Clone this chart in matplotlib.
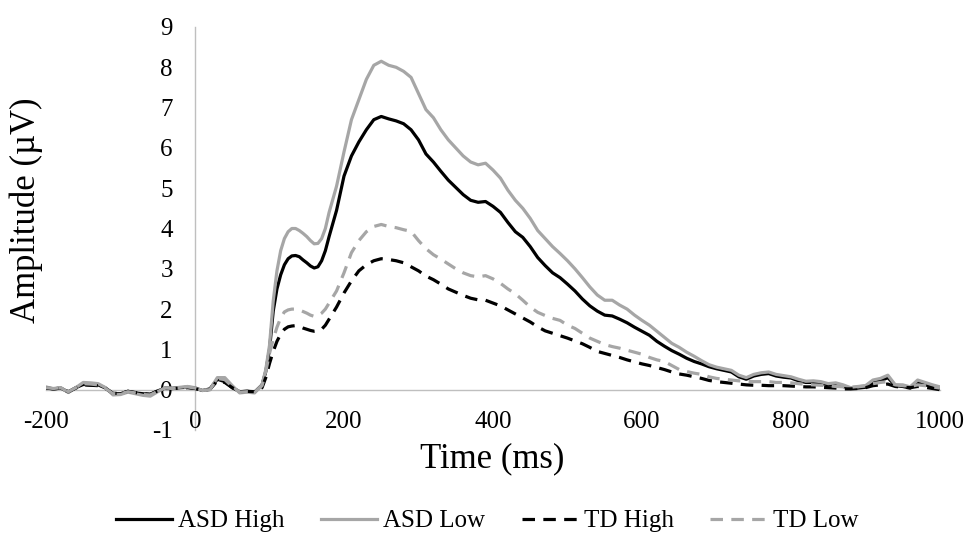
import numpy as np
import matplotlib
matplotlib.use("Agg")
import matplotlib.pyplot as plt
from matplotlib.lines import Line2D

plt.rcParams['font.family'] = ['Liberation Serif', 'DejaVu Serif']
plt.rcParams['lines.scale_dashes'] = False
plt.rcParams['axes.unicode_minus'] = False

time_ms = list(range(-200, 90, 10)) + list(range(90, 180, 5)) + list(range(180, 1001, 10))

asd_high = [0.05, 0.02, 0.04, -0.06, 0.05, 0.13, 0.12, 0.12, 0.04, -0.10,
            -0.10, -0.04, -0.08, -0.10, -0.12, -0.03, 0.04, 0.03, 0.05, 0.06,
            0.04, -0.02, 0.02, 0.26, 0.20, 0.05, -0.05, -0.04, -0.06,
            0.12, 0.45, 1.00, 1.95, 2.50, 2.85, 3.10, 3.25, 3.32, 3.33,
            3.30, 3.22, 3.15, 3.07, 3.02, 3.05, 3.20, 3.45,
            3.80, 4.45,
            5.30, 5.80, 6.15, 6.45, 6.70, 6.78, 6.72, 6.67, 6.60, 6.45,
            6.20, 5.85, 5.65, 5.42, 5.20, 5.02, 4.84, 4.70, 4.65, 4.67,
            4.55, 4.40, 4.15, 3.92, 3.78, 3.55, 3.28, 3.08, 2.90, 2.78,
            2.62, 2.45, 2.25, 2.08, 1.95, 1.85, 1.83, 1.75, 1.66, 1.55,
            1.45, 1.35, 1.20, 1.08, 0.97, 0.88, 0.78, 0.70, 0.64, 0.57,
            0.52, 0.48, 0.44, 0.32, 0.26, 0.34, 0.38, 0.40, 0.34, 0.31,
            0.29, 0.22, 0.18, 0.18, 0.16, 0.12, 0.13, 0.08, 0.03, 0.04,
            0.06, 0.18, 0.22, 0.30, 0.10, 0.08, 0.04, 0.18, 0.12, 0.08,
            0.04]

asd_low = [0.07, 0.02, 0.05, -0.07, 0.05, 0.18, 0.17, 0.15, 0.05, -0.13,
           -0.12, -0.06, -0.10, -0.14, -0.16, -0.05, 0.05, 0.04, 0.06, 0.08,
           0.05, -0.02, 0.00, 0.30, 0.30, 0.10, -0.08, -0.06, -0.08,
           0.12, 0.50, 1.10, 2.20, 2.95, 3.45, 3.75, 3.92, 4.00, 4.00,
           3.95, 3.88, 3.80, 3.70, 3.62, 3.63, 3.75, 4.00,
           4.40, 5.05,
           5.90, 6.70, 7.20, 7.70, 8.05, 8.15, 8.05, 8.00, 7.90, 7.75,
           7.35, 6.95, 6.75, 6.45, 6.20, 6.00, 5.80, 5.65, 5.58, 5.62,
           5.45, 5.25, 4.95, 4.70, 4.50, 4.25, 3.95, 3.75, 3.55, 3.38,
           3.20, 3.00, 2.78, 2.55, 2.35, 2.22, 2.22, 2.10, 2.00, 1.85,
           1.72, 1.60, 1.45, 1.30, 1.15, 1.05, 0.93, 0.83, 0.72, 0.62,
           0.56, 0.52, 0.48, 0.36, 0.30, 0.38, 0.42, 0.44, 0.38, 0.35,
           0.32, 0.26, 0.21, 0.22, 0.20, 0.15, 0.17, 0.12, 0.05, 0.07,
           0.10, 0.24, 0.28, 0.36, 0.12, 0.12, 0.07, 0.24, 0.18, 0.12,
           0.07]

td_high = [0.04, 0.02, 0.04, -0.05, 0.04, 0.12, 0.11, 0.10, 0.03, -0.09,
           -0.09, -0.04, -0.07, -0.10, -0.11, -0.03, 0.03, 0.03, 0.04, 0.05,
           0.03, -0.02, 0.01, 0.22, 0.18, 0.05, -0.05, -0.04, -0.05,
           0.05, 0.30, 0.65, 0.95, 1.20, 1.38, 1.50, 1.56, 1.58, 1.59,
           1.57, 1.53, 1.50, 1.47, 1.45, 1.46, 1.50, 1.60,
           1.75, 2.05,
           2.40, 2.70, 2.95, 3.10, 3.20, 3.25, 3.23, 3.20, 3.15, 3.05,
           2.95, 2.82, 2.73, 2.62, 2.50, 2.42, 2.34, 2.27, 2.23, 2.22,
           2.15, 2.08, 1.98, 1.88, 1.78, 1.68, 1.56, 1.46, 1.40, 1.34,
           1.28, 1.21, 1.14, 1.05, 0.95, 0.90, 0.85, 0.80, 0.74, 0.69,
           0.64, 0.60, 0.55, 0.50, 0.44, 0.39, 0.36, 0.32, 0.28, 0.23,
           0.20, 0.18, 0.16, 0.14, 0.12, 0.11, 0.11, 0.10, 0.10, 0.10,
           0.09, 0.08, 0.07, 0.07, 0.06, 0.05, 0.04, 0.02, 0.02, 0.03,
           0.05, 0.10, 0.12, 0.14, 0.08, 0.06, 0.05, 0.08, 0.06, 0.03,
           0.00]

td_low = [0.05, 0.03, 0.05, -0.05, 0.05, 0.15, 0.14, 0.12, 0.03, -0.10,
          -0.10, -0.05, -0.08, -0.12, -0.13, -0.04, 0.04, 0.03, 0.05, 0.07,
          0.04, -0.01, 0.00, 0.28, 0.25, 0.08, -0.06, -0.05, -0.06,
          0.10, 0.45, 0.90, 1.25, 1.55, 1.78, 1.93, 1.98, 2.00, 2.00,
          1.98, 1.94, 1.90, 1.85, 1.82, 1.84, 1.90, 2.00,
          2.15, 2.45,
          2.90, 3.40, 3.70, 3.92, 4.05, 4.10, 4.05, 4.02, 3.97, 3.93,
          3.70, 3.50, 3.35, 3.24, 3.12, 3.00, 2.90, 2.83, 2.80, 2.83,
          2.75, 2.64, 2.50, 2.38, 2.22, 2.05, 1.92, 1.84, 1.77, 1.72,
          1.60, 1.52, 1.40, 1.28, 1.20, 1.12, 1.07, 1.03, 0.98, 0.93,
          0.88, 0.80, 0.74, 0.70, 0.60, 0.50, 0.45, 0.41, 0.38, 0.32,
          0.28, 0.26, 0.24, 0.22, 0.21, 0.20, 0.20, 0.20, 0.18, 0.18,
          0.17, 0.15, 0.13, 0.12, 0.11, 0.10, 0.08, 0.07, 0.06, 0.08,
          0.10, 0.15, 0.18, 0.20, 0.12, 0.10, 0.08, 0.12, 0.10, 0.07,
          0.04]

series_names = ["ASD High", "ASD Low", "TD High", "TD Low"]
x_ticks = [-200, 0, 200, 400, 600, 800, 1000]
y_ticks = list(range(-1, 10))

BLACK = "#000000"
GRAY = "#a6a6a6"
AXIS = "#bfbfbf"
LW = 2.3
DASH = (0, (9, 6))

W, H = 968, 533
fig = plt.figure(figsize=(W / 100, H / 100), dpi=100)
ax = fig.add_axes([46 / W, (H - 430) / H, 894 / W, 403 / H])

styles = [
    dict(color=BLACK, lw=LW, ls='-'),
    dict(color=GRAY, lw=LW, ls='-'),
    dict(color=BLACK, lw=LW, ls=DASH),
    dict(color=GRAY, lw=LW, ls=DASH),
]
data = [asd_high, asd_low, td_high, td_low]
for name, vals, st in zip(series_names, data, styles):
    ax.plot(time_ms, vals, label=name, solid_joinstyle='round',
            dash_joinstyle='round', dash_capstyle='butt', **st)

ax.set_xlim(-200, 1000)
ax.set_ylim(-1, 9)
ax.set_xticks(x_ticks)
ax.set_yticks(y_ticks)

for s in ['top', 'right']:
    ax.spines[s].set_visible(False)
ax.spines['left'].set_position(('data', 0))
ax.spines['bottom'].set_position(('data', 0))
for s in ['left', 'bottom']:
    ax.spines[s].set_color(AXIS)
    ax.spines[s].set_linewidth(1.0)
    ax.spines[s].set_zorder(0.5)

ax.tick_params(axis='both', length=0, labelsize=18)
ax.tick_params(axis='x', pad=15.5)
ax.tick_params(axis='y', pad=16)
ax.patch.set_alpha(0)

fig.text(26 / W, (H - 210) / H, "Amplitude (µV)", rotation=90,
         ha='center', va='center', fontsize=25)
fig.text(492 / W, (H - 467) / H, "Time (ms)", ha='center', va='baseline',
         fontsize=25)

leg_handles = [Line2D([0], [0], **st) for st in styles]
fig.legend(leg_handles, series_names, loc='center', ncol=4,
           bbox_to_anchor=(487 / W, (H - 521) / H), frameon=False,
           fontsize=18, handlelength=2.25, handletextpad=0.25,
           columnspacing=1.45, borderpad=0, borderaxespad=0)

fig.savefig("out.png", dpi=100)
